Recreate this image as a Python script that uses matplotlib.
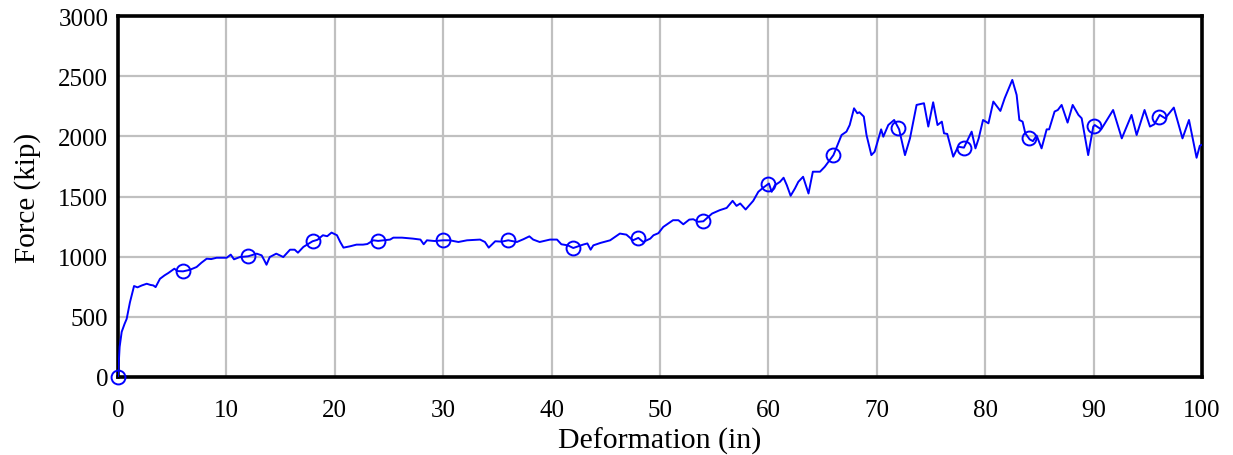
import matplotlib
matplotlib.use("Agg")
import matplotlib.pyplot as plt
import numpy as np

plt.rcParams['font.family'] = ['Liberation Serif', 'DejaVu Serif']

deformation = [0, 0.15, 0.34, 0.6, 0.8, 1.1, 1.48, 1.8, 2.2, 2.65, 3.0, 3.26, 3.47, 3.87, 4.3, 4.64,
               5.2, 5.5, 6.0, 6.6, 7.25, 7.7, 8.18, 8.6, 9.1, 10.03, 10.4, 10.7, 11.25, 12.0, 12.8,
               13.25, 13.5, 13.7, 14.0, 14.6, 15.25, 15.87, 16.3, 16.6, 17.1, 17.95, 18.4, 18.9, 19.3,
               19.7, 20.2, 20.5, 20.8, 21.4, 22.0, 22.6, 23.0, 23.55, 24.0, 25.1, 25.4, 26.2, 27.2,
               27.9, 28.2, 28.5, 29.2, 30.0, 30.6, 31.4, 32.2, 33.4, 33.85, 34.2, 34.8, 35.4, 36.0,
               36.8, 37.4, 37.95, 38.3, 38.9, 39.85, 40.5, 40.9, 41.5, 42.0, 42.9, 43.3, 43.6, 43.85,
               44.5, 45.4, 46.3, 46.9, 47.5, 48.0, 48.45, 49.1, 49.4, 49.85, 50.3, 51.2, 51.7, 52.15,
               52.7, 53.07, 53.5, 54.0, 54.8, 55.5, 56.15, 56.7, 57.06, 57.4, 57.9, 58.6, 59.07, 59.5,
               60.05, 60.3, 60.6, 61.07, 61.4, 61.7, 62.05, 62.45, 62.76, 63.2, 63.7, 64.1, 64.76,
               65.2, 66.0, 66.75, 67.2, 67.5, 67.9, 68.2, 68.4, 68.8, 69.05, 69.5, 69.8, 70.4, 70.6,
               71.06, 71.6, 72.06, 72.6, 73.06, 73.67, 74.35, 74.75, 75.2, 75.6, 76.0, 76.2, 76.5,
               77.05, 77.5, 78.04, 78.45, 78.75, 79.1, 79.4, 79.8, 80.3, 80.75, 81.4, 81.8, 82.5,
               82.9, 83.15, 83.45, 83.7, 84.1, 84.4, 84.75, 85.2, 85.67, 85.9, 86.4, 86.7, 87.05,
               87.6, 88.07, 88.6, 88.9, 89.5, 89.97, 90.1, 90.7, 91.8, 92.6, 93.5, 93.97, 94.7, 95.2,
               95.6, 96.1, 96.6, 97.4, 98.2, 98.8, 99.5, 99.8, 100]
force = [0, 250, 375, 440, 483, 620, 756, 745, 761, 775, 765, 761, 747, 816, 845, 864,
         900, 880, 878, 890, 914, 950, 983, 980, 991, 991, 1017, 978, 997, 1003, 1025,
         1011, 969, 933, 997, 1025, 997, 1058, 1058, 1033, 1081, 1128, 1140, 1178, 1170,
         1200, 1178, 1122, 1075, 1086, 1100, 1100, 1105, 1136, 1131, 1142, 1158, 1158, 1150,
         1142, 1103, 1136, 1130, 1136, 1136, 1122, 1136, 1142, 1122, 1075, 1128, 1125, 1136,
         1122, 1145, 1169, 1142, 1122, 1142, 1142, 1103, 1094, 1072, 1100, 1110, 1058, 1094,
         1114, 1136, 1192, 1183, 1136, 1156, 1122, 1150, 1178, 1195, 1247, 1303, 1303, 1269,
         1308, 1311, 1290, 1294, 1358, 1386, 1405, 1464, 1422, 1442, 1392, 1464, 1539, 1572,
         1608, 1539, 1594, 1622, 1656, 1594, 1506, 1567, 1622, 1664, 1525, 1706, 1706,
         1747, 1844, 2011, 2039, 2094, 2233, 2192, 2200, 2164, 2011, 1844, 1872, 2058, 1997,
         2094, 2136, 2058, 1844, 1983, 2261, 2275, 2081, 2283, 2094, 2122, 2025, 2020,
         1831, 1914, 1906, 1983, 2039, 1900, 1983, 2136, 2108, 2289, 2211, 2317, 2469,
         2344, 2136, 2122, 2025, 1975, 1960, 2006, 1900, 2058, 2058, 2206, 2219, 2261,
         2114, 2261, 2178, 2150, 1844, 2081, 2094, 2058, 2219, 1983, 2178, 2011, 2219, 2081,
         2100, 2178, 2150, 2239, 1983, 2136, 1822, 1922, 1930]
marker_x = [0, 6, 12, 18, 24, 30, 36, 42, 48, 54, 60, 66, 72, 78, 84, 90, 96]

x_ticks = [0, 10, 20, 30, 40, 50, 60, 70, 80, 90, 100]
y_ticks = [0, 500, 1000, 1500, 2000, 2500, 3000]

fig = plt.figure(figsize=(12.33, 4.56), dpi=100)
ax = fig.add_axes([118/1233, 1 - 378/456, (1202-118)/1233, (378-17)/456])

ax.plot(deformation, force, color='#0000ff', lw=1.4, zorder=3)
my = np.interp(marker_x, deformation, force)
ax.plot(marker_x, my, linestyle='none', marker='o', ms=10, mfc='none', mec='#0000ff', mew=1.4,
        zorder=4, clip_on=False)

ax.set_xlim(0, 100)
ax.set_ylim(0, 3000)
ax.set_xticks(x_ticks)
ax.set_yticks(y_ticks)
ax.grid(True, color='#c0c0c0', lw=1.6)
ax.set_axisbelow(True)
for s in ax.spines.values():
    s.set_linewidth(2.6)
    s.set_color('black')
ax.tick_params(axis='both', length=0, labelsize=18, colors='black')
ax.tick_params(axis='x', pad=16)
ax.tick_params(axis='y', pad=7)
ax.set_xlabel('Deformation (in)', fontsize=21.5)
ax.set_ylabel('Force (kip)', fontsize=21)
ax.xaxis.set_label_coords(0.5, (378 - 428) / 361)
ax.yaxis.set_label_coords((41 - 118) / 1084, 0.5)

fig.savefig('out.png', dpi=100)
